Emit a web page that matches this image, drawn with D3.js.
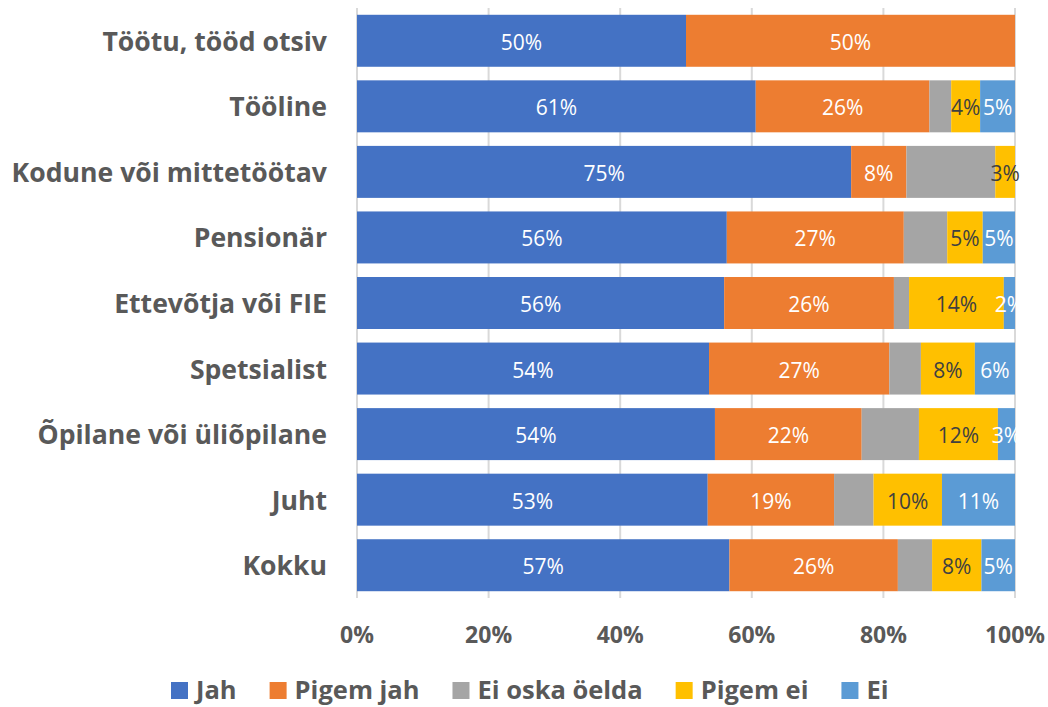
<!DOCTYPE html>
<html><head><meta charset="utf-8">
<script src="https://cdn.jsdelivr.net/npm/d3@7"></script>
<style>body{margin:0;background:#fff}svg{display:block}</style>
</head><body>
<script>
const categories = ["Töötu, tööd otsiv","Tööline","Kodune või mittetöötav","Pensionär","Ettevõtja või FIE","Spetsialist","Õpilane või üliõpilane","Juht","Kokku"];
const seriesNames = ["Jah","Pigem jah","Ei oska öelda","Pigem ei","Ei"];
const colors = ["#4472C4","#ED7D31","#A5A5A5","#FFC000","#5B9BD5"];
const jah      = [50, 60.6, 75.1, 56.2, 55.8, 53.5, 54.4, 53.3, 56.6];
const pigemJah = [50, 26.4,  8.4, 26.9, 25.8, 27.4, 22.3, 19.2, 25.6];
const eiOska   = [ 0,  3.3, 13.5,  6.6,  2.3,  4.8,  8.7,  6.0,  5.2];
const pigemEi  = [ 0,  4.4,  3.0,  5.4, 14.4,  8.2, 12.0, 10.4,  7.5];
const ei       = [ 0,  5.3,  0.0,  4.9,  1.7,  6.1,  2.6, 11.1,  5.1];
const tickValues = [0,20,40,60,80,100];
const showLabel = [true,true,false,true,true];
const labelColor = ["#fff","#fff","#fff","#404040","#fff"];

const W=1048,H=707;
const margin={left:357,right:33,top:8,bottom:109};
const svg=d3.select("body").append("svg").attr("width",W).attr("height",H);
const font="'Open Sans', sans-serif";

const x=d3.scaleLinear().domain([0,100]).range([margin.left,W-margin.right]);
const y=d3.scaleBand().domain(categories).range([margin.top,H-margin.bottom]).paddingInner(0.207).paddingOuter(0.1035);

const data=categories.map((c,i)=>({cat:c,Jah:jah[i],"Pigem jah":pigemJah[i],"Ei oska öelda":eiOska[i],"Pigem ei":pigemEi[i],Ei:ei[i]}));
const stacked=d3.stack().keys(seriesNames)(data);

// gridlines
svg.append("g").selectAll("line").data(tickValues).join("line")
  .attr("x1",d=>x(d)).attr("x2",d=>x(d))
  .attr("y1",margin.top).attr("y2",H-margin.bottom)
  .attr("stroke","#d9d9d9").attr("stroke-width",2);

// bars
const g=svg.append("g");
stacked.forEach((s,si)=>{
  g.append("g").selectAll("rect").data(s).join("rect")
    .attr("x",d=>x(d[0])).attr("width",d=>Math.max(0,x(d[1])-x(d[0])))
    .attr("y",d=>y(d.data.cat)).attr("height",y.bandwidth())
    .attr("fill",colors[si]);
  if(showLabel[si]){
    g.append("g").selectAll("text").data(s.filter(d=>d[1]-d[0]>0.5)).join("text")
      .attr("x",d=>x((d[0]+d[1])/2)).attr("y",d=>y(d.data.cat)+y.bandwidth()/2+1)
      .attr("text-anchor","middle").attr("dominant-baseline","central")
      .attr("font-family",font).attr("font-size",21).attr("fill",labelColor[si])
      .text(d=>Math.round(d[1]-d[0])+"%");
  }
});

// category labels
svg.append("g").selectAll("text").data(categories).join("text")
  .attr("x",margin.left-30).attr("y",d=>y(d)+y.bandwidth()/2)
  .attr("text-anchor","end").attr("dominant-baseline","central")
  .attr("font-family",font).attr("font-weight","bold").attr("font-size",26.6).attr("fill","#595959")
  .text(d=>d);

// x axis labels
svg.append("g").selectAll("text").data(tickValues).join("text")
  .attr("x",d=>x(d)).attr("y",634)
  .attr("text-anchor","middle").attr("dominant-baseline","central")
  .attr("font-family",font).attr("font-weight","bold").attr("font-size",23).attr("fill","#595959")
  .text(d=>d+"%");

// legend
const leg=svg.append("g");
let lx=171;
seriesNames.forEach((n,i)=>{
  leg.append("rect").attr("x",lx).attr("y",682).attr("width",17).attr("height",17).attr("fill",colors[i]);
  const t=leg.append("text").attr("x",lx+25).attr("y",689).attr("dominant-baseline","central")
    .attr("font-family",font).attr("font-weight","bold").attr("font-size",25.5).attr("fill","#595959").text(n);
  lx+=25+t.node().getComputedTextLength()+33;
});
</script>
</body></html>
